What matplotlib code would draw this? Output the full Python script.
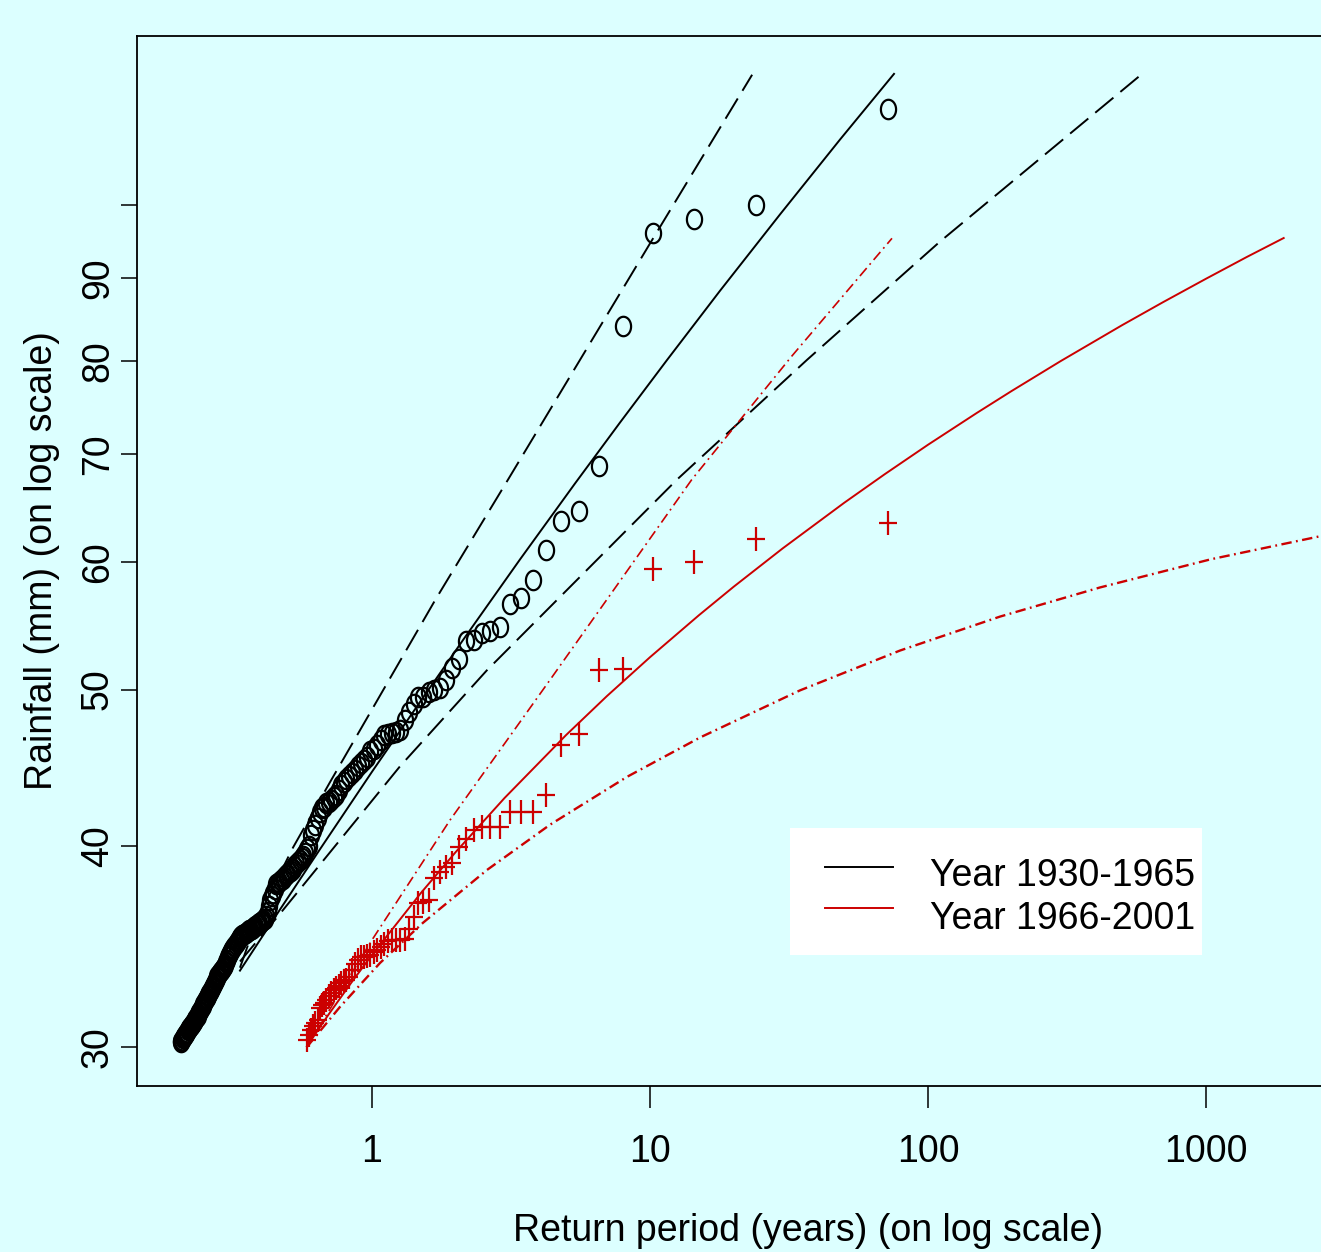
import numpy as np
import matplotlib
matplotlib.use("Agg")
import matplotlib.pyplot as plt
from matplotlib.path import Path
from matplotlib.patches import Rectangle
from matplotlib.lines import Line2D
from matplotlib.ticker import NullLocator

plt.rcParams['font.family'] = ['Liberation Sans', 'DejaVu Sans']
plt.rcParams['lines.scale_dashes'] = False

# ---------------- data ----------------
N_YEARS = 36  # years in each period

# observed exceedances (mm), sorted from largest to smallest
rain_1930_1965 = [
    114.7, 100.0, 97.9, 96.0, 84.1, 68.8, 64.5, 63.6, 61.0, 58.5,
    57.0, 56.5, 54.7, 54.4, 54.2, 53.7, 53.6, 52.2, 51.6, 50.7,
    50.1, 50.0, 49.8, 49.5, 49.5, 49.0, 48.4,
    47.9, 47.2, 47.06, 47.0, 46.9, 46.86, 46.5, 46.2, 45.9, 45.8,
    45.4, 45.2, 45.0, 44.8, 44.6, 44.4, 44.2, 44.0, 43.8, 43.6, 43.3, 43.0, 42.9,
    42.7, 42.6, 42.5, 42.3, 42.2, 42.0, 41.6, 41.2, 40.9, 40.6,
    40.0, 39.8, 39.6, 39.4, 39.3, 39.2, 39.1, 38.95, 38.85, 38.7,
    38.6, 38.5, 38.4, 38.35, 38.25, 38.15, 38.1, 38.0, 37.95, 37.85,
    37.6, 37.4, 37.2, 37.0, 36.7, 36.4, 36.2, 36.0, 35.95, 35.9,
    35.85, 35.81, 35.76, 35.70, 35.66, 35.61, 35.57, 35.52, 35.48, 35.44,
    35.39, 35.35, 35.31, 35.27, 35.23, 35.19, 35.15, 35.11, 35.01, 34.93,
    34.84, 34.75, 34.66, 34.58, 34.49, 34.41, 34.33, 34.22, 34.10, 33.98,
    33.87, 33.75, 33.64, 33.58, 33.51, 33.45, 33.38, 33.32, 33.25, 33.19,
    33.11, 33.02, 32.93, 32.84, 32.74, 32.65, 32.56, 32.47, 32.39, 32.32,
    32.25, 32.18, 32.12, 32.04, 31.97, 31.90, 31.82, 31.75, 31.68, 31.60,
    31.52, 31.45, 31.38, 31.31, 31.26, 31.21, 31.16, 31.11, 31.06, 31.01,
    30.97, 30.92, 30.88, 30.83, 30.77, 30.72, 30.67, 30.62, 30.58, 30.52,
    30.47, 30.42, 30.37, 30.32, 30.27, 30.22,
]

rain_1966_2001 = [
    63.4, 62.0, 60.0, 59.4, 51.5, 51.4, 46.9, 46.2, 43.0, 42.0,
    42.0, 42.0, 41.1, 41.1, 41.1, 40.9, 40.4, 39.9, 39.0, 38.8,
    38.5, 38.2, 37.0, 36.9, 36.85, 36.1, 35.5, 35.0, 34.96, 34.96,
    34.96, 34.9, 34.75, 34.6, 34.46, 34.35, 34.2, 34.17, 34.13, 34.1,
    33.95, 33.8, 33.5, 33.16, 33.0, 32.95, 32.87, 32.75, 32.65, 32.55,
    32.4, 32.25, 32.08, 31.95, 31.85, 31.72, 31.18, 31.05, 30.9, 30.74,
    30.5, 30.3,
]

# fitted return-level curves and confidence bounds: (return period, rainfall)
fit1_T = [0.335, 0.467, 0.650, 1.0, 1.488, 2.125, 3.406, 5.373, 7.80, 11.51,
          17.86, 29.35, 48.27, 75.46]
fit1_z = [33.46, 36.52, 39.80, 44.46, 49.12, 53.67, 60.22, 67.13, 73.24, 80.08,
          88.42, 98.61, 109.76, 120.55]
up1_T = [0.335, 0.386, 0.52, 0.706, 1.685, 3.085, 5.6, 10.0, 23.3]
up1_z = [33.6, 36.0, 39.9, 43.8, 56.8, 67.5, 80.1, 94.6, 120.4]
lo1_T = [0.335, 0.455, 1.26, 2.59, 12.5, 36.7, 110, 594]
lo1_z = [33.9, 36.1, 44.8, 51.4, 67.5, 80.1, 94.8, 120.7]

fit2_T = [0.583, 0.7, 0.85, 1, 1.5, 2, 3, 5, 7, 10, 15, 20, 30, 50, 70, 100,
          150, 200, 300, 500, 700, 1000, 1400, 1903]
fit2_z = [30.03, 31.45, 32.96, 34.22, 37.39, 39.64, 42.83, 46.87, 49.54, 52.37,
          55.61, 57.92, 61.18, 65.31, 68.04, 70.95, 74.26, 76.62, 79.96, 84.19,
          86.98, 89.95, 92.78, 95.34]
up2_T = [0.583, 1.0, 1.908, 4.369, 14.13, 32.3, 74.2]
up2_z = [30.0, 34.96, 41.49, 50.7, 67.5, 80.5, 95.3]
lo2_T = [0.583, 0.767, 1.069, 1.526, 2.593, 4.369, 8.27, 15.13, 34.6, 79.3,
         181.6, 415.7, 1042, 2593, 9674]
lo2_z = [30.0, 31.77, 33.83, 35.83, 38.64, 41.22, 44.14, 46.69, 49.94, 52.87,
         55.5, 57.86, 60.24, 62.27, 64.88]

legend_labels = ["Year 1930-1965", "Year 1966-2001"]
x_ticks = [1, 10, 100, 1000]
x_ticklabels = ["1", "10", "100", "1000"]
y_ticks = [30, 40, 50, 60, 70, 80, 90, 100]
y_ticklabels = ["30", "40", "50", "60", "70", "80", "90", ""]

# ---------------- style ----------------
BG = '#dcffff'
RED = '#cc0000'
FS = 27
W, H = 1321, 1252

# return periods from plotting positions
rank1 = np.arange(1, len(rain_1930_1965) + 1)
rank2 = np.arange(1, len(rain_1966_2001) + 1)
T1 = N_YEARS / (rank1 - 0.5)
T2 = N_YEARS / (rank2 - 0.5)

# elliptical circle marker and tall plus marker
th = np.linspace(0, 2 * np.pi, 64)
circ = Path(np.column_stack([0.39 * np.cos(th), 0.5 * np.sin(th)]), closed=True)
plus = Path([(-0.37, 0), (0.37, 0), (0, -0.5), (0, 0.5)],
            [Path.MOVETO, Path.LINETO, Path.MOVETO, Path.LINETO])

fig = plt.figure(figsize=(W / 100, H / 100), dpi=100, facecolor=BG)
ax_left, ax_right, ax_top, ax_bot = 137, 1479, 36, 1086
ax = fig.add_axes([ax_left / W, 1 - ax_bot / H, (ax_right - ax_left) / W, (ax_bot - ax_top) / H])
ax.set_facecolor(BG)
ax.set_xscale('log')
ax.set_yscale('log')

ax.plot(T1, rain_1930_1965, linestyle='none', marker=circ, ms=14, mfc='none',
        mec='black', mew=1.6, zorder=3)
ax.plot(T2, rain_1966_2001, linestyle='none', marker=plus, ms=17.5, mfc='none',
        mec=RED, mew=1.6, zorder=3)

dash_black = (0, (17, 6.5))
dash_red = (0, (7.5, 3.2, 1.3, 3.2))
ax.plot(fit1_T, fit1_z, color='black', lw=1.4, zorder=2)
ax.plot(up1_T, up1_z, color='black', lw=1.4, linestyle=dash_black, zorder=2)
ax.plot(lo1_T, lo1_z, color='black', lw=1.4, linestyle=dash_black, zorder=2)
ax.plot(fit2_T, fit2_z, color=RED, lw=1.4, zorder=2)
ax.plot(up2_T, up2_z, color=RED, lw=1.2, linestyle=dash_red, zorder=2)
ax.plot(lo2_T, lo2_z, color=RED, lw=1.7, linestyle=dash_red, zorder=2)

# axes ranges
x_lo = 10 ** ((ax_left - 372) / 278)
x_hi = 10 ** ((ax_right - 372) / 278)
y_lo = 30 * 10 ** ((1047 - ax_bot) / 1611)
y_hi = 30 * 10 ** ((1047 - ax_top) / 1611)
ax.set_xlim(x_lo, x_hi)
ax.set_ylim(y_lo, y_hi)

ax.set_xticks(x_ticks)
ax.set_xticklabels(x_ticklabels)
ax.set_yticks(y_ticks)
ax.set_yticklabels(y_ticklabels)
ax.xaxis.set_minor_locator(NullLocator())
ax.yaxis.set_minor_locator(NullLocator())
ax.tick_params(axis='x', length=15.5, width=1.1, pad=19, labelsize=FS, direction='out')
ax.tick_params(axis='y', length=11.7, width=1.1, pad=3.5, labelsize=FS, direction='out',
               labelrotation=90)
for lab in ax.get_yticklabels():
    lab.set_va('center')

for s in ax.spines.values():
    s.set_linewidth(1.3)

ax.set_xlabel("Return period (years) (on log scale)", fontsize=FS)
ax.xaxis.set_label_coords(0.5, -0.121)
ax.set_ylabel("Rainfall (mm) (on log scale)", fontsize=FS)
ax.yaxis.set_label_coords(-0.0574, 0.5)

# legend box (drawn in axes fraction coordinates)
def ax_x(px):
    return (px - ax_left) / (ax_right - ax_left)

def ax_y(py):
    return (ax_bot - py) / (ax_bot - ax_top)

ax.add_patch(Rectangle((ax_x(790), ax_y(955)), ax_x(1202) - ax_x(790), ax_y(828) - ax_y(955),
                       transform=ax.transAxes, facecolor='white', edgecolor='none', zorder=5))
for i, (lab, col) in enumerate(zip(legend_labels, ['black', RED])):
    ly = [867, 908][i]
    by = [886, 929][i]
    ax.add_line(Line2D([ax_x(825), ax_x(893)], [ax_y(ly), ax_y(ly)], color=col, lw=1.4,
                       transform=ax.transAxes, zorder=6))
    ax.text(ax_x(930), ax_y(by), lab, transform=ax.transAxes, fontsize=FS,
            va='baseline', ha='left', zorder=6)

fig.savefig('out.png', dpi=100, facecolor=BG)
